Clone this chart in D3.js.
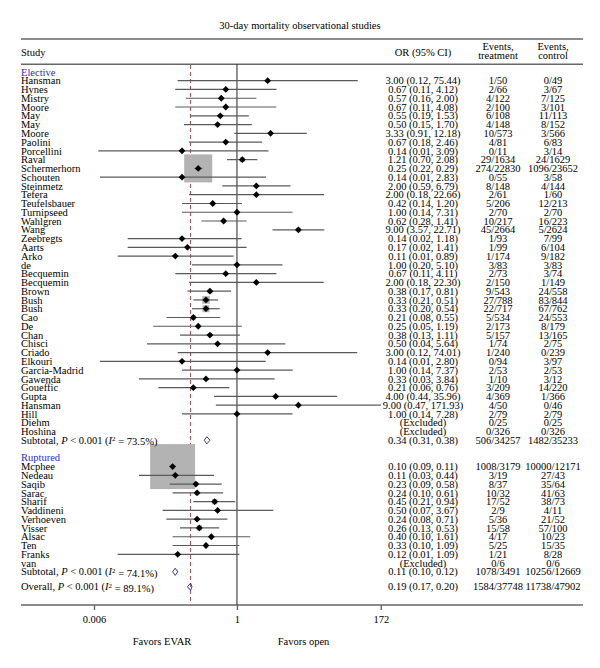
<!DOCTYPE html>
<html>
<head>
<meta charset="utf-8">
<script src="https://cdn.jsdelivr.net/npm/d3@7/dist/d3.min.js"></script>
<style>
  body { margin: 0; background: #fff; }
  text { font-family: "Liberation Serif", "DejaVu Serif", serif; font-size: 10.5px; fill: #000; }
</style>
</head>
<body>
<div id="forest"></div>
<script>
// ---- data ----
const electiveStudies = ["Hansman","Hynes","Mistry","Moore","May","May","Moore","Paolini","Porcellini","Raval",
  "Schermerhorn","Schouten","Steinmetz","Tefera","Teufelsbauer","Turnipseed","Wahlgren","Wang","Zeebregts","Aarts",
  "Arko","de","Becquemin","Becquemin","Brown","Bush","Bush","Cao","De","Chan","Chisci","Criado","Elkouri",
  "Garcia-Madrid","Gawenda","Goueffic","Gupta","Hansman","Hill","Diehm","Hoshina"];
const electiveOR = [3.00,0.67,0.57,0.67,0.55,0.50,3.33,0.67,0.14,1.21,0.25,0.14,2.00,2.00,0.42,1.00,0.62,9.00,0.14,0.17,
  0.11,1.00,0.67,2.00,0.38,0.33,0.33,0.21,0.25,0.38,0.50,3.00,0.14,1.00,0.33,0.21,4.00,9.00,1.00,null,null];
const electiveLo = [0.12,0.11,0.16,0.11,0.19,0.15,0.91,0.18,0.007,0.70,0.22,0.0074,0.59,0.18,0.14,0.14,0.28,3.57,0.02,0.02,
  0.014,0.20,0.11,0.18,0.17,0.21,0.20,0.08,0.05,0.13,0.04,0.12,0.0074,0.14,0.03,0.06,0.44,0.47,0.14,null,null];
const electiveHi = [75.44,4.12,2.00,4.08,1.53,1.70,12.18,2.46,3.09,2.08,0.29,2.83,6.79,22.66,1.20,7.31,1.41,22.71,1.18,1.41,
  0.89,5.10,4.11,22.30,0.81,0.51,0.54,0.55,1.19,1.11,5.64,74.01,2.80,7.37,3.84,0.76,35.96,171.93,7.28,null,null];
const electiveTreat = ["1/50","2/66","4/122","2/100","6/108","4/148","10/573","4/81","0/11","29/1634","274/22830","0/55",
  "8/148","2/61","5/206","2/70","10/217","45/2664","1/93","1/99","1/174","3/83","2/73","2/150","9/543","27/788","22/717",
  "5/534","2/173","5/157","1/74","1/240","0/94","2/53","1/10","3/209","4/369","4/50","2/79","0/25","0/326"];
const electiveControl = ["0/49","3/67","7/125","3/101","11/113","8/152","3/566","6/83","3/14","24/1629","1096/23652","3/58",
  "4/144","1/60","12/213","2/70","16/223","5/2624","7/99","6/104","9/182","3/83","3/74","1/149","24/558","83/844","67/762",
  "24/553","8/179","13/165","2/75","0/239","3/97","2/53","3/12","14/220","1/366","0/46","2/79","0/25","0/326"];
const electiveWeight = [0.05,0.1,0.2,0.1,0.25,0.2,0.2,0.2,0.05,0.5,16.3,0.05,0.2,0.05,0.3,0.1,0.4,0.3,0.1,0.1,
  0.1,0.1,0.1,0.05,0.45,1.17,1.0,0.4,0.15,0.3,0.05,0.05,0.05,0.1,0.05,0.2,0.05,0.05,0.1,0,0];

const rupturedStudies = ["Mcphee","Nedeau","Saqib","Sarac","Sharif","Vaddineni","Verhoeven","Visser","Alsac","Ten","Franks","van"];
const rupturedOR = [0.10,0.11,0.23,0.24,0.45,0.50,0.24,0.26,0.40,0.33,0.12,null];
const rupturedLo = [0.09,0.03,0.09,0.10,0.21,0.07,0.08,0.13,0.10,0.10,0.014,null];
const rupturedHi = [0.11,0.44,0.58,0.61,0.94,3.67,0.71,0.53,1.61,1.09,1.09,null];
const rupturedTreat = ["1008/3179","3/19","8/37","10/32","17/52","2/9","5/36","15/58","4/17","5/25","1/21","0/6"];
const rupturedControl = ["10000/12171","27/43","35/64","41/63","38/73","4/11","21/52","57/100","10/23","15/35","8/28","0/6"];
const rupturedWeight = [42,0.2,0.4,0.4,0.6,0.05,0.3,0.6,0.2,0.3,0.1,0];

const pooledLabels = ["Subtotal", "Subtotal", "Overall"];
const pooledI2 = ["73.5%", "74.1%", "89.1%"];
const pooledOR = [0.34, 0.11, 0.19];
const pooledLo = [0.31, 0.10, 0.17];
const pooledHi = [0.38, 0.12, 0.20];
const pooledTreat = ["506/34257", "1078/3491", "1584/37748"];
const pooledControl = ["1482/35233", "10256/12669", "11738/47902"];

const groupNames = ["Elective", "Ruptured"];
const axisTicks = [0.006, 1, 172];
const axisTickLabels = ["0.006", "1", "172"];

// ---- layout ----
const W = 600, H = 668;
const left = 21, right = 583;
const colOR = 423, colTreat = 498, colCtrl = 553;
const rowY = i => 80.7 + i * 8.77;

const svg = d3.select("#forest").append("svg")
  .attr("width", W).attr("height", H);

const x = d3.scaleLog().domain([0.006, 172]).range([94, 380.8]);
const fmt = d3.format(".2f");

// build rows
function studyRows(names, or, lo, hi, tr, ct, w, start) {
  return names.map((n, i) => ({
    name: n, or: or[i], lo: lo[i], hi: hi[i], treat: tr[i], ctrl: ct[i], w: w[i], row: start + i
  }));
}
const studies = studyRows(electiveStudies, electiveOR, electiveLo, electiveHi, electiveTreat, electiveControl, electiveWeight, 0)
  .concat(studyRows(rupturedStudies, rupturedOR, rupturedLo, rupturedHi, rupturedTreat, rupturedControl, rupturedWeight, 44));
const pooledRows = [41, 56, 57.7];
const pooled = pooledLabels.map((l, i) => ({
  label: l, i2: pooledI2[i], or: pooledOR[i], lo: pooledLo[i], hi: pooledHi[i],
  treat: pooledTreat[i], ctrl: pooledControl[i], row: pooledRows[i]
}));
const groupRows = [-1, 43];

// title
svg.append("text").attr("x", 300).attr("y", 25.7).attr("dy", "0.35em")
  .attr("text-anchor", "middle").text("30-day mortality observational studies");

// rules
const rule = y => svg.append("line").attr("x1", left).attr("x2", right).attr("y1", y).attr("y2", y)
  .attr("stroke", "#666").attr("stroke-width", 1.6);
rule(39); rule(64.3); rule(605);

// headers
svg.append("text").attr("x", left).attr("y", 52.5).attr("dy", "0.35em").text("Study");
svg.append("text").attr("x", colOR).attr("y", 52.5).attr("dy", "0.35em").attr("text-anchor", "middle").text("OR (95% CI)");
[[colTreat, "treatment"], [colCtrl, "control"]].forEach(([cx, t]) => {
  svg.append("text").attr("x", cx).attr("y", 46.7).attr("dy", "0.35em").attr("text-anchor", "middle").text("Events,");
  svg.append("text").attr("x", cx).attr("y", 55.7).attr("dy", "0.35em").attr("text-anchor", "middle").text(t);
});

// reference lines
svg.append("line").attr("x1", x(1)).attr("x2", x(1)).attr("y1", 64.3).attr("y2", 605)
  .attr("stroke", "#222").attr("stroke-width", 1);
svg.append("line").attr("x1", x(pooledOR[2])).attr("x2", x(pooledOR[2])).attr("y1", 65).attr("y2", 604)
  .attr("stroke", "#b04a55").attr("stroke-width", 1).attr("stroke-dasharray", "4,3");

// weight boxes
const drawn = studies.filter(d => d.or != null);
svg.append("g").selectAll("rect").data(drawn.filter(d => d.w > 0)).join("rect")
  .attr("x", d => x(d.or) - 3.47 * Math.sqrt(d.w))
  .attr("y", d => rowY(d.row) - 3.47 * Math.sqrt(d.w))
  .attr("width", d => 6.94 * Math.sqrt(d.w))
  .attr("height", d => 6.94 * Math.sqrt(d.w))
  .attr("fill", "#b3b3b3");

// CI lines
svg.append("g").selectAll("line").data(drawn).join("line")
  .attr("x1", d => x(d.lo)).attr("x2", d => x(d.hi))
  .attr("y1", d => rowY(d.row)).attr("y2", d => rowY(d.row))
  .attr("stroke", "#5a5a5a").attr("stroke-width", 1.2);

// point estimates
svg.append("g").selectAll("path").data(drawn).join("path")
  .attr("transform", d => `translate(${x(d.or)},${rowY(d.row)})`)
  .attr("d", "M0,-3.4L3.4,0L0,3.4L-3.4,0Z")
  .attr("fill", "#000");

// pooled diamonds
svg.append("g").selectAll("path").data(pooled).join("path")
  .attr("d", d => {
    const y = rowY(d.row), h = 3.6;
    return `M${x(d.lo)},${y}L${x(d.or)},${y - h}L${x(d.hi)},${y}L${x(d.or)},${y + h}Z`;
  })
  .attr("fill", "none").attr("stroke", "#33339a").attr("stroke-width", 1);

// group labels
svg.append("g").selectAll("text").data(groupNames).join("text")
  .attr("x", left).attr("y", (d, i) => rowY(groupRows[i])).attr("dy", "0.35em")
  .style("fill", "#2b2bd0").text(d => d);

// study text columns
const tg = svg.append("g");
studies.forEach(d => {
  const y = rowY(d.row);
  tg.append("text").attr("x", left).attr("y", y).attr("dy", "0.35em").text(d.name);
  tg.append("text").attr("x", colOR).attr("y", y).attr("dy", "0.35em").attr("text-anchor", "middle")
    .text(d.or == null ? "(Excluded)" : `${fmt(d.or)} (${fmt(d.lo)}, ${fmt(d.hi)})`);
  tg.append("text").attr("x", colTreat).attr("y", y).attr("dy", "0.35em").attr("text-anchor", "middle").text(d.treat);
  tg.append("text").attr("x", colCtrl).attr("y", y).attr("dy", "0.35em").attr("text-anchor", "middle").text(d.ctrl);
});

pooled.forEach(d => {
  const y = rowY(d.row);
  const t = tg.append("text").attr("x", left).attr("y", y).attr("dy", "0.35em");
  t.append("tspan").text(d.label + ", ");
  t.append("tspan").style("font-style", "italic").text("P");
  t.append("tspan").text(" < 0.001 (");
  t.append("tspan").style("font-style", "italic").text("I");
  t.append("tspan").attr("dy", "-0.4em").style("font-size", "7px").text("2");
  t.append("tspan").attr("dy", "0.4em").text(" = " + d.i2 + ")");
  tg.append("text").attr("x", colOR).attr("y", y).attr("dy", "0.35em").attr("text-anchor", "middle")
    .text(`${fmt(d.or)} (${fmt(d.lo)}, ${fmt(d.hi)})`);
  tg.append("text").attr("x", colTreat).attr("y", y).attr("dy", "0.35em").attr("text-anchor", "middle").text(d.treat);
  tg.append("text").attr("x", colCtrl).attr("y", y).attr("dy", "0.35em").attr("text-anchor", "middle").text(d.ctrl);
});

// x axis
const xAxis = d3.axisBottom(x).tickValues(axisTicks).tickSize(5).tickPadding(5.5)
  .tickFormat((d, i) => axisTickLabels[i]);
const ax = svg.append("g").attr("transform", "translate(0,605)").call(xAxis);
ax.select(".domain").remove();
ax.selectAll(".tick line").attr("stroke", "#666").attr("stroke-width", 1.4);
ax.selectAll(".tick text").attr("font-family", null).attr("font-size", null);

svg.append("text").attr("x", 162).attr("y", 641.7).attr("dy", "0.35em").attr("text-anchor", "middle").text("Favors EVAR");
svg.append("text").attr("x", 303.5).attr("y", 641.7).attr("dy", "0.35em").attr("text-anchor", "middle").text("Favors open");
</script>
</body>
</html>
